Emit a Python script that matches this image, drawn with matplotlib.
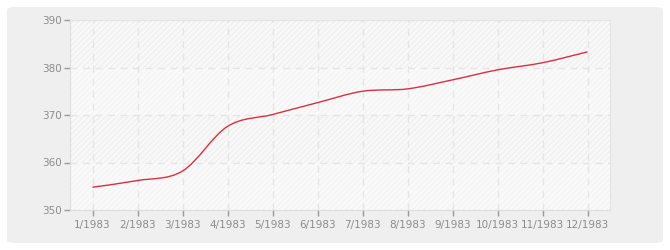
import numpy as np
import matplotlib
matplotlib.use("Agg")
import matplotlib.pyplot as plt
from matplotlib.path import Path
from matplotlib.patches import PathPatch, FancyBboxPatch

labels = ["1/1983", "2/1983", "3/1983", "4/1983", "5/1983", "6/1983",
          "7/1983", "8/1983", "9/1983", "10/1983", "11/1983", "12/1983"]
values = [354.8, 356.2, 358.2, 367.6, 370.1, 372.6,
          375.0, 375.5, 377.4, 379.5, 381.0, 383.3]
yticks = [350, 360, 370, 380, 390]

fig = plt.figure(figsize=(6.7, 2.5), dpi=100)
fig.patch.set_facecolor("white")
bg = FancyBboxPatch((7 / 670, 7 / 250), 656 / 670, 236 / 250,
                    boxstyle="round,pad=0,rounding_size=0.012",
                    transform=fig.transFigure, facecolor="#efefef",
                    edgecolor="none", zorder=-10)
fig.patches.append(bg)

ax = fig.add_axes([70 / 670, 40 / 250, 540 / 670, 190 / 250])
ax.set_zorder(1)
ax.set_facecolor("#fbfbfb")
x = np.arange(len(values))
ax.set_xlim(-0.5, len(values) - 0.5)
ax.set_ylim(yticks[0], yticks[-1])

# alternating bands
for i in range(len(yticks) - 1):
    lo, hi = yticks[i], yticks[i + 1]
    if i % 2 == 1:
        ax.axhspan(lo, hi, facecolor="#f9f9f9", edgecolor="#efefef",
                   hatch="//////", linewidth=0, zorder=0)
    else:
        ax.axhspan(lo, hi, facecolor="#fafafa", edgecolor="#f4f4f4",
                   hatch="//////", linewidth=0, zorder=0)

ax.grid(True, color="#e5e5e5", linestyle=(0, (5, 4)), linewidth=1)
ax.set_axisbelow(True)

# smooth curve (Catmull-Rom as cubic Bezier)
pts = np.column_stack([x, values]).astype(float)
verts = [tuple(pts[0])]
codes = [Path.MOVETO]
n = len(pts)
for i in range(n - 1):
    p0 = pts[i - 1] if i > 0 else pts[i]
    p1 = pts[i]
    p2 = pts[i + 1]
    p3 = pts[i + 2] if i + 2 < n else pts[i + 1]
    c1 = p1 + (p2 - p0) / 6.0
    c2 = p2 - (p3 - p1) / 6.0
    verts += [tuple(c1), tuple(c2), tuple(p2)]
    codes += [Path.CURVE4] * 3
ax.add_patch(PathPatch(Path(verts, codes), facecolor="none",
                       edgecolor="#d8303f", linewidth=1.0, zorder=3))

ax.set_xticks(x)
ax.set_xticklabels(labels)
ax.set_yticks(yticks)
ax.tick_params(axis="both", colors="#999999", labelcolor="#8c8c8c",
               labelsize=7.5, length=4, width=1)
ax.tick_params(axis="x", pad=3)
ax.tick_params(axis="y", pad=2)
for s in ["left", "bottom"]:
    ax.spines[s].set_color("#dddddd")
for s in ["top", "right"]:
    ax.spines[s].set_color("#e4e4e4")

fig.savefig("out.png", dpi=100)
